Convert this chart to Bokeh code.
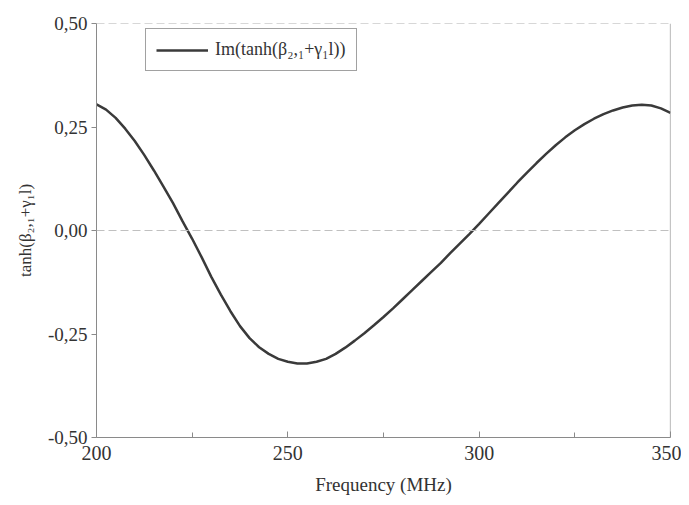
from bokeh.plotting import figure
from bokeh.models import Range1d, FixedTicker, Span, Legend, LegendItem
from bokeh.embed import file_html
from bokeh.resources import INLINE

# Data
freq_mhz = [200, 202.5, 205, 207.5, 210, 212.5, 215, 217.5, 220, 222.5, 225, 227.5, 230, 232.5,
            235, 237.5, 240, 242.5, 245, 247.5, 250, 252.5, 255, 257.5, 260, 262.5, 265, 267.5,
            270, 272.5, 275, 277.5, 280, 282.5, 285, 287.5, 290, 292.5, 295, 297.5, 300, 302.5,
            305, 307.5, 310, 312.5, 315, 317.5, 320, 322.5, 325, 327.5, 330, 332.5, 335, 337.5,
            340, 342.5, 345, 347.5, 350]
im_tanh = [0.305, 0.292, 0.272, 0.246, 0.216, 0.182, 0.145, 0.106, 0.066, 0.022, -0.020, -0.065,
           -0.112, -0.155, -0.195, -0.231, -0.260, -0.282, -0.298, -0.310, -0.317, -0.321, -0.321,
           -0.317, -0.310, -0.298, -0.283, -0.266, -0.248, -0.229, -0.209, -0.188, -0.166, -0.144,
           -0.122, -0.100, -0.078, -0.054, -0.031, -0.008, 0.016, 0.041, 0.066, 0.091, 0.116,
           0.140, 0.163, 0.185, 0.206, 0.225, 0.242, 0.257, 0.270, 0.281, 0.290, 0.297, 0.302,
           0.304, 0.302, 0.295, 0.284]
x_ticks = [200, 250, 300, 350]
x_minor_ticks = [225, 275, 325]
y_ticks = [-0.5, -0.25, 0.0, 0.25, 0.5]
y_tick_labels = ["-0,50", "-0,25", "0,00", "0,25", "0,50"]
series_label = "Im(tanh(\u03b2\u2082,\u2081+\u03b3\u2081l))"
x_title = "Frequency (MHz)"
y_title = "tanh(\u03b2\u2082,\u2081+\u03b3\u2081l)"

FONT = "'Liberation Serif', serif"
AX = "#8a8a8a"
TXT = "#333333"

p = figure(width=681, height=497, output_backend="svg", toolbar_location=None,
           x_range=Range1d(200, 350), y_range=Range1d(-0.5, 0.5),
           min_border_left=96, min_border_right=11, min_border_top=23, min_border_bottom=57)
p.outline_line_color = None
p.background_fill_color = "white"
p.border_fill_color = "white"
p.xgrid.visible = False
p.ygrid.visible = False

line = p.line(freq_mhz, im_tanh, line_color="#3a3a3a", line_width=2.5)

# axes
xa = p.xaxis[0]
xa.ticker = FixedTicker(ticks=x_ticks, minor_ticks=x_minor_ticks)
xa.axis_label = x_title
xa.axis_label_text_font = FONT
xa.axis_label_text_font_style = "normal"
xa.axis_label_text_font_size = "19px"
xa.axis_label_text_color = TXT
xa.axis_label_standoff = 11
xa.major_label_text_font = FONT
xa.major_label_text_font_size = "20px"
xa.major_label_text_color = TXT
xa.major_label_standoff = 8
xa.axis_line_color = AX
xa.major_tick_line_color = AX
xa.minor_tick_line_color = AX
xa.major_tick_in = 6
xa.major_tick_out = 0
xa.minor_tick_in = 5
xa.minor_tick_out = 0

ya = p.yaxis[0]
ya.ticker = FixedTicker(ticks=y_ticks, minor_ticks=[])
ya.major_label_overrides = {t: s for t, s in zip(y_ticks, y_tick_labels)}
ya.axis_label = y_title
ya.axis_label_text_font = FONT
ya.axis_label_text_font_style = "normal"
ya.axis_label_text_font_size = "17px"
ya.axis_label_text_color = TXT
ya.axis_label_standoff = 10
ya.major_label_text_font = FONT
ya.major_label_text_font_size = "19px"
ya.major_label_text_color = TXT
ya.major_label_standoff = 4
ya.axis_line_color = AX
ya.major_tick_line_color = AX
ya.major_tick_in = 0
ya.major_tick_out = 5

# frame: dashed top, solid right, dashed zero line
p.add_layout(Span(location=0.5, dimension="width", line_color="#b0b0b0", line_dash="8 4", line_width=1.2))
p.add_layout(Span(location=350, dimension="height", line_color=AX, line_width=1.2))
p.add_layout(Span(location=0.0, dimension="width", line_color="#c0c0c0", line_dash="8 4", line_width=1.2))

legend = Legend(items=[LegendItem(label=series_label, renderers=[line])],
                location=(49, 366), orientation="vertical",
                label_text_font=FONT, label_text_font_size="18px", label_text_color=TXT,
                border_line_color="#444444", border_line_width=1.2,
                background_fill_color="white", background_fill_alpha=1.0,
                glyph_width=52, glyph_height=20, padding=10, margin=0,
                label_standoff=7)
legend.label_height = 18
p.add_layout(legend)

open("out.html", "w").write(file_html(p, INLINE))
